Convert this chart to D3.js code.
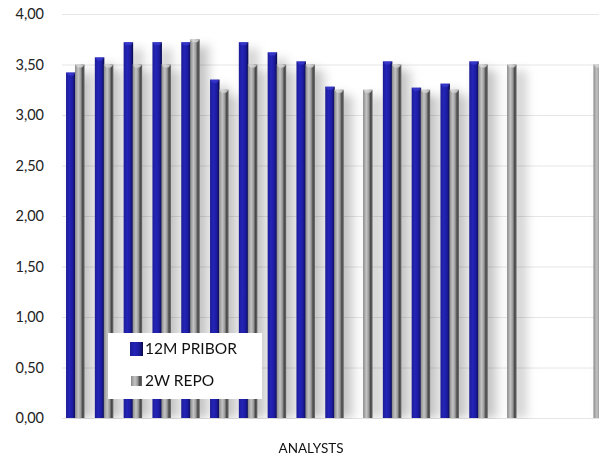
<!DOCTYPE html>
<html><head><meta charset="utf-8">
<script src="https://cdn.jsdelivr.net/npm/d3@7"></script>
<style>body{margin:0;background:#fff}svg{display:block}</style>
</head><body>
<script>
const categories = ["1","2","3","4","5","6","7","8","9","10","11","12","13","14","15","16","17","18","19"];
const pribor = [3.42,3.57,3.72,3.72,3.72,3.35,3.72,3.62,3.53,3.28,null,3.53,3.27,3.31,3.53,null,null,null,null];
const repo   = [3.50,3.50,3.50,3.50,3.75,3.25,3.50,3.50,3.50,3.25,3.25,3.50,3.25,3.25,3.50,3.50,null,null,3.50];
const seriesNames = ["12M PRIBOR","2W REPO"];
const yTicks = [0,0.5,1,1.5,2,2.5,3,3.5,4];
const xTitle = "ANALYSTS";

const W=599,H=455;
const svg=d3.select("body").append("svg").attr("width",W).attr("height",H);
const defs=svg.append("defs");
const gb=defs.append("linearGradient").attr("id","gBlue").attr("x1","0").attr("x2","1").attr("y1","0").attr("y2","0");
[[0,"#1c1c95"],[0.35,"#2424b8"],[0.7,"#1c1ca0"],[1,"#0a0a4a"]].forEach(s=>gb.append("stop").attr("offset",s[0]).attr("stop-color",s[1]));
const gg=defs.append("linearGradient").attr("id","gGray").attr("x1","0").attr("x2","1").attr("y1","0").attr("y2","0");
[[0,"#8a8a8a"],[0.35,"#c4c4c4"],[0.6,"#9a9a9a"],[0.8,"#474747"],[1,"#6a6a6a"]].forEach(s=>gg.append("stop").attr("offset",s[0]).attr("stop-color",s[1]));
const f=defs.append("filter").attr("id","sh").attr("x","-50%").attr("y","-10%").attr("width","300%").attr("height","120%");
f.append("feGaussianBlur").attr("stdDeviation",5);

const x=d3.scaleBand().domain(categories).range([62,606.5]).paddingInner(0.375).paddingOuter(0.14);
const x1=d3.scaleBand().domain(seriesNames).range([0,x.bandwidth()]);
const y=d3.scaleLinear().domain([0,4]).range([418,14]);

svg.append("g").selectAll("line").data(yTicks).join("line")
 .attr("x1",62).attr("x2",W).attr("y1",d=>y(d)+0.5).attr("y2",d=>y(d)+0.5)
 .attr("stroke","#e6e6e6").attr("stroke-width",1);

svg.append("g").selectAll("text").data(yTicks).join("text")
 .attr("x",44).attr("y",d=>y(d)).attr("dy","0.35em").attr("text-anchor","end")
 .attr("font-family","Lato, 'Open Sans', sans-serif").attr("font-size",14.5).attr("fill","#222")
 .text(d=>d.toFixed(2).replace(".",","));

const data=[];
categories.forEach((c,i)=>{
  if(pribor[i]!=null) data.push({c,s:seriesNames[0],v:pribor[i],fill:"url(#gBlue)",top:"#3a3ad0"});
  if(repo[i]!=null) data.push({c,s:seriesNames[1],v:repo[i],fill:"url(#gGray)",top:"#d8d8d8"});
});

const clip=defs.append("clipPath").attr("id","pc");
clip.append("rect").attr("x",62).attr("y",0).attr("width",W-62).attr("height",419);

const plot=svg.append("g").attr("clip-path","url(#pc)");
plot.append("g").attr("filter","url(#sh)").selectAll("rect").data(data).join("rect")
 .attr("x",d=>x(d.c)+x1(d.s)+5).attr("width",x1.bandwidth()+6)
 .attr("y",d=>y(d.v)+6).attr("height",d=>y(0)-y(d.v)-6)
 .attr("fill","#000").attr("opacity",0.16);
const bw=x1.bandwidth()+0.5;
plot.append("g").selectAll("rect").data(data).join("rect")
 .attr("x",d=>x(d.c)+x1(d.s)).attr("width",bw)
 .attr("y",d=>y(d.v)).attr("height",d=>y(0)-y(d.v))
 .attr("fill",d=>d.fill);
plot.append("g").selectAll("path").data(data).join("path")
 .attr("d",d=>{const x0=x(d.c)+x1(d.s),t=y(d.v);return `M${x0},${t}L${x0+bw},${t}L${x0+bw*0.75},${t+3}L${x0+bw*0.25},${t+3}Z`;})
 .attr("fill",d=>d.top).attr("opacity",0.8);

const lg=svg.append("g");
lg.append("rect").attr("x",108).attr("y",333).attr("width",154).attr("height",66).attr("fill","#fff");
lg.append("rect").attr("x",130).attr("y",342).attr("width",13).attr("height",14).attr("fill","url(#gBlue)");
lg.append("rect").attr("x",131).attr("y",376).attr("width",11).attr("height",10).attr("fill","url(#gGray)");
lg.selectAll("text.l").data(seriesNames).join("text").attr("class","l")
 .attr("x",145).attr("y",(d,i)=>349+i*32).attr("dy","0.35em")
 .attr("font-family","Lato, 'Open Sans', sans-serif").attr("font-size",15.5).attr("fill","#111")
 .text(d=>d);

svg.append("text").attr("x",311).attr("y",448).attr("dy","0.35em").attr("text-anchor","middle")
 .attr("font-family","Lato, 'Open Sans', sans-serif").attr("font-size",13.5).attr("fill","#111").text(xTitle);
</script>
</body></html>
